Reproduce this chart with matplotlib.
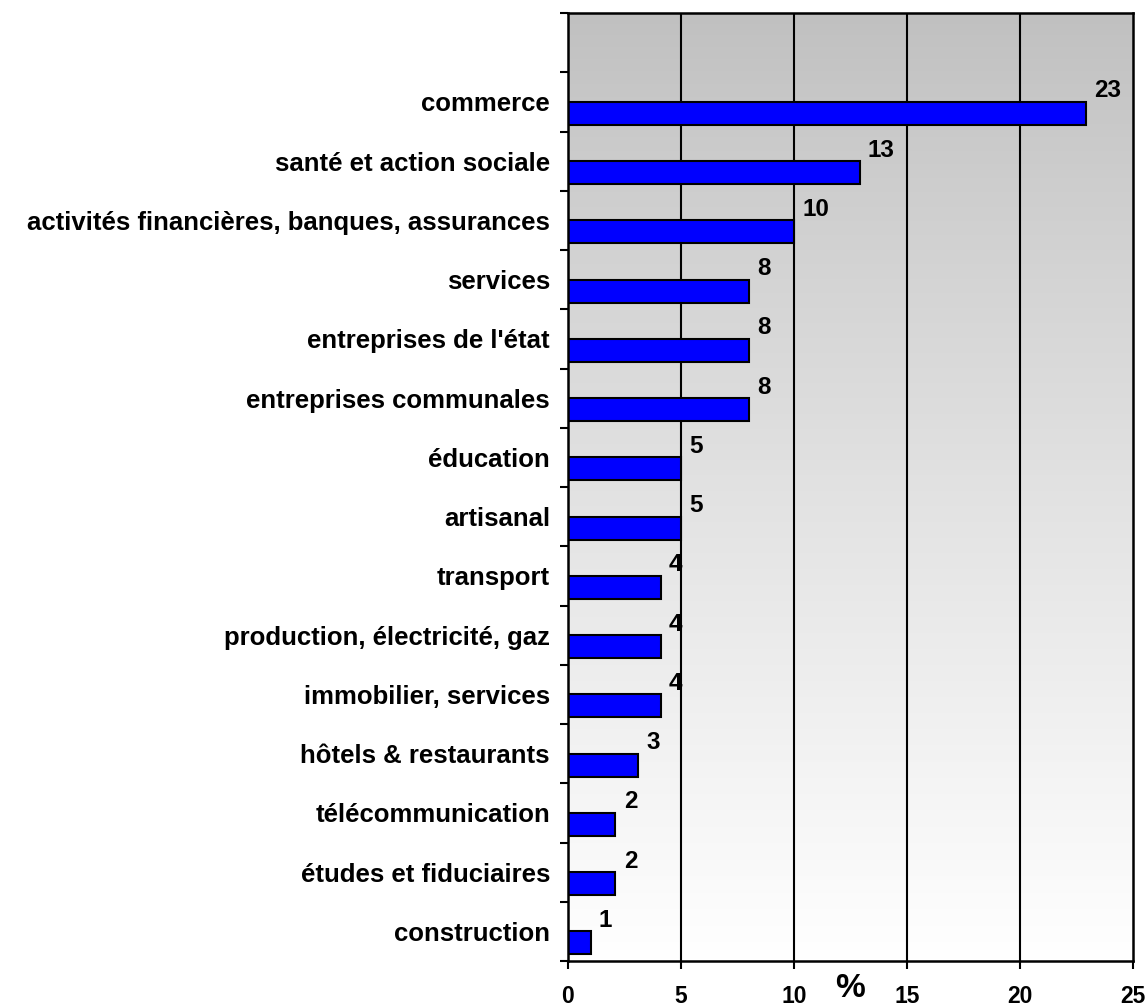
import matplotlib
matplotlib.use("Agg")
import matplotlib.pyplot as plt
import numpy as np

categories = [
    "commerce",
    "santé et action sociale",
    "activités financières, banques, assurances",
    "services",
    "entreprises de l'état",
    "entreprises communales",
    "éducation",
    "artisanal",
    "transport",
    "production, électricité, gaz",
    "immobilier, services",
    "hôtels & restaurants",
    "télécommunication",
    "études et fiduciaires",
    "construction",
]
values = [22.9, 12.9, 10.0, 8.0, 8.0, 8.0, 5.0, 5.0, 4.1, 4.1, 4.1, 3.1, 2.1, 2.1, 1.0]
value_labels = ["23", "13", "10", "8", "8", "8", "5", "5", "4", "4", "4", "3", "2", "2", "1"]
xticks = [0, 5, 10, 15, 20, 25]

plt.rcParams["font.family"] = ["Liberation Sans", "DejaVu Sans"]
plt.rcParams["font.weight"] = "bold"

fig = plt.figure(figsize=(11.48, 10.08), dpi=100)
ax = fig.add_axes([568 / 1148, 47 / 1008, 565 / 1148, 948 / 1008])

n = len(categories)
ypos = np.arange(1, n + 1)

ax.set_xlim(0, 25)
ax.set_ylim(n + 0.5, -0.5)

# vertical gradient background (gray at top, white at bottom)
grad = np.linspace(0, 1, 256) ** 0.9
grad = grad.reshape(-1, 1)
c0 = np.array([192, 192, 192]) / 255.0
c1 = np.array([255, 255, 255]) / 255.0
img = c0[None, None, :] * (1 - grad[:, :, None]) + c1[None, None, :] * grad[:, :, None]
img = np.clip(img, 0, 1)
ax.imshow(img, aspect="auto", extent=[0, 25, n + 0.5, -0.5], origin="upper",
          zorder=0, interpolation="bilinear")

# gridlines
for xv in xticks[1:-1]:
    ax.axvline(xv, color="black", lw=1.5, zorder=1)

ax.barh(ypos, values, height=0.39, align="edge", color="#0000ff",
        edgecolor="black", linewidth=1.5, zorder=3)

for y, v, lab in zip(ypos, values, value_labels):
    ax.annotate(lab, xy=(v, y), xytext=(6, 8), textcoords="offset points",
                ha="left", va="center", fontsize=17.5, fontweight="bold", zorder=4)

# y axis: ticks at slot boundaries, labels at slot centers
ax.set_yticks(np.arange(-0.5, n + 1, 1.0))
ax.set_yticklabels([])
ax.set_yticks(ypos, minor=True)
ax.set_yticklabels(categories, minor=True, fontsize=18.5, fontweight="bold")
ax.tick_params(axis="y", which="major", direction="out", length=6, width=1.5)
ax.tick_params(axis="y", which="minor", length=0, pad=13)

ax.set_xticks(xticks)
ax.set_xticklabels([str(t) for t in xticks], fontsize=16.5, fontweight="bold")
ax.tick_params(axis="x", direction="out", length=6, width=1.5, pad=11)

ax.set_xlabel("%", fontsize=24, fontweight="bold")
ax.xaxis.set_label_coords(0.499, -0.029)
ax.xaxis.label.set_verticalalignment("center")

for s in ax.spines.values():
    s.set_linewidth(1.8)
    s.set_color("black")
    s.set_zorder(5)

fig.savefig("out.png", dpi=100, facecolor="white")
